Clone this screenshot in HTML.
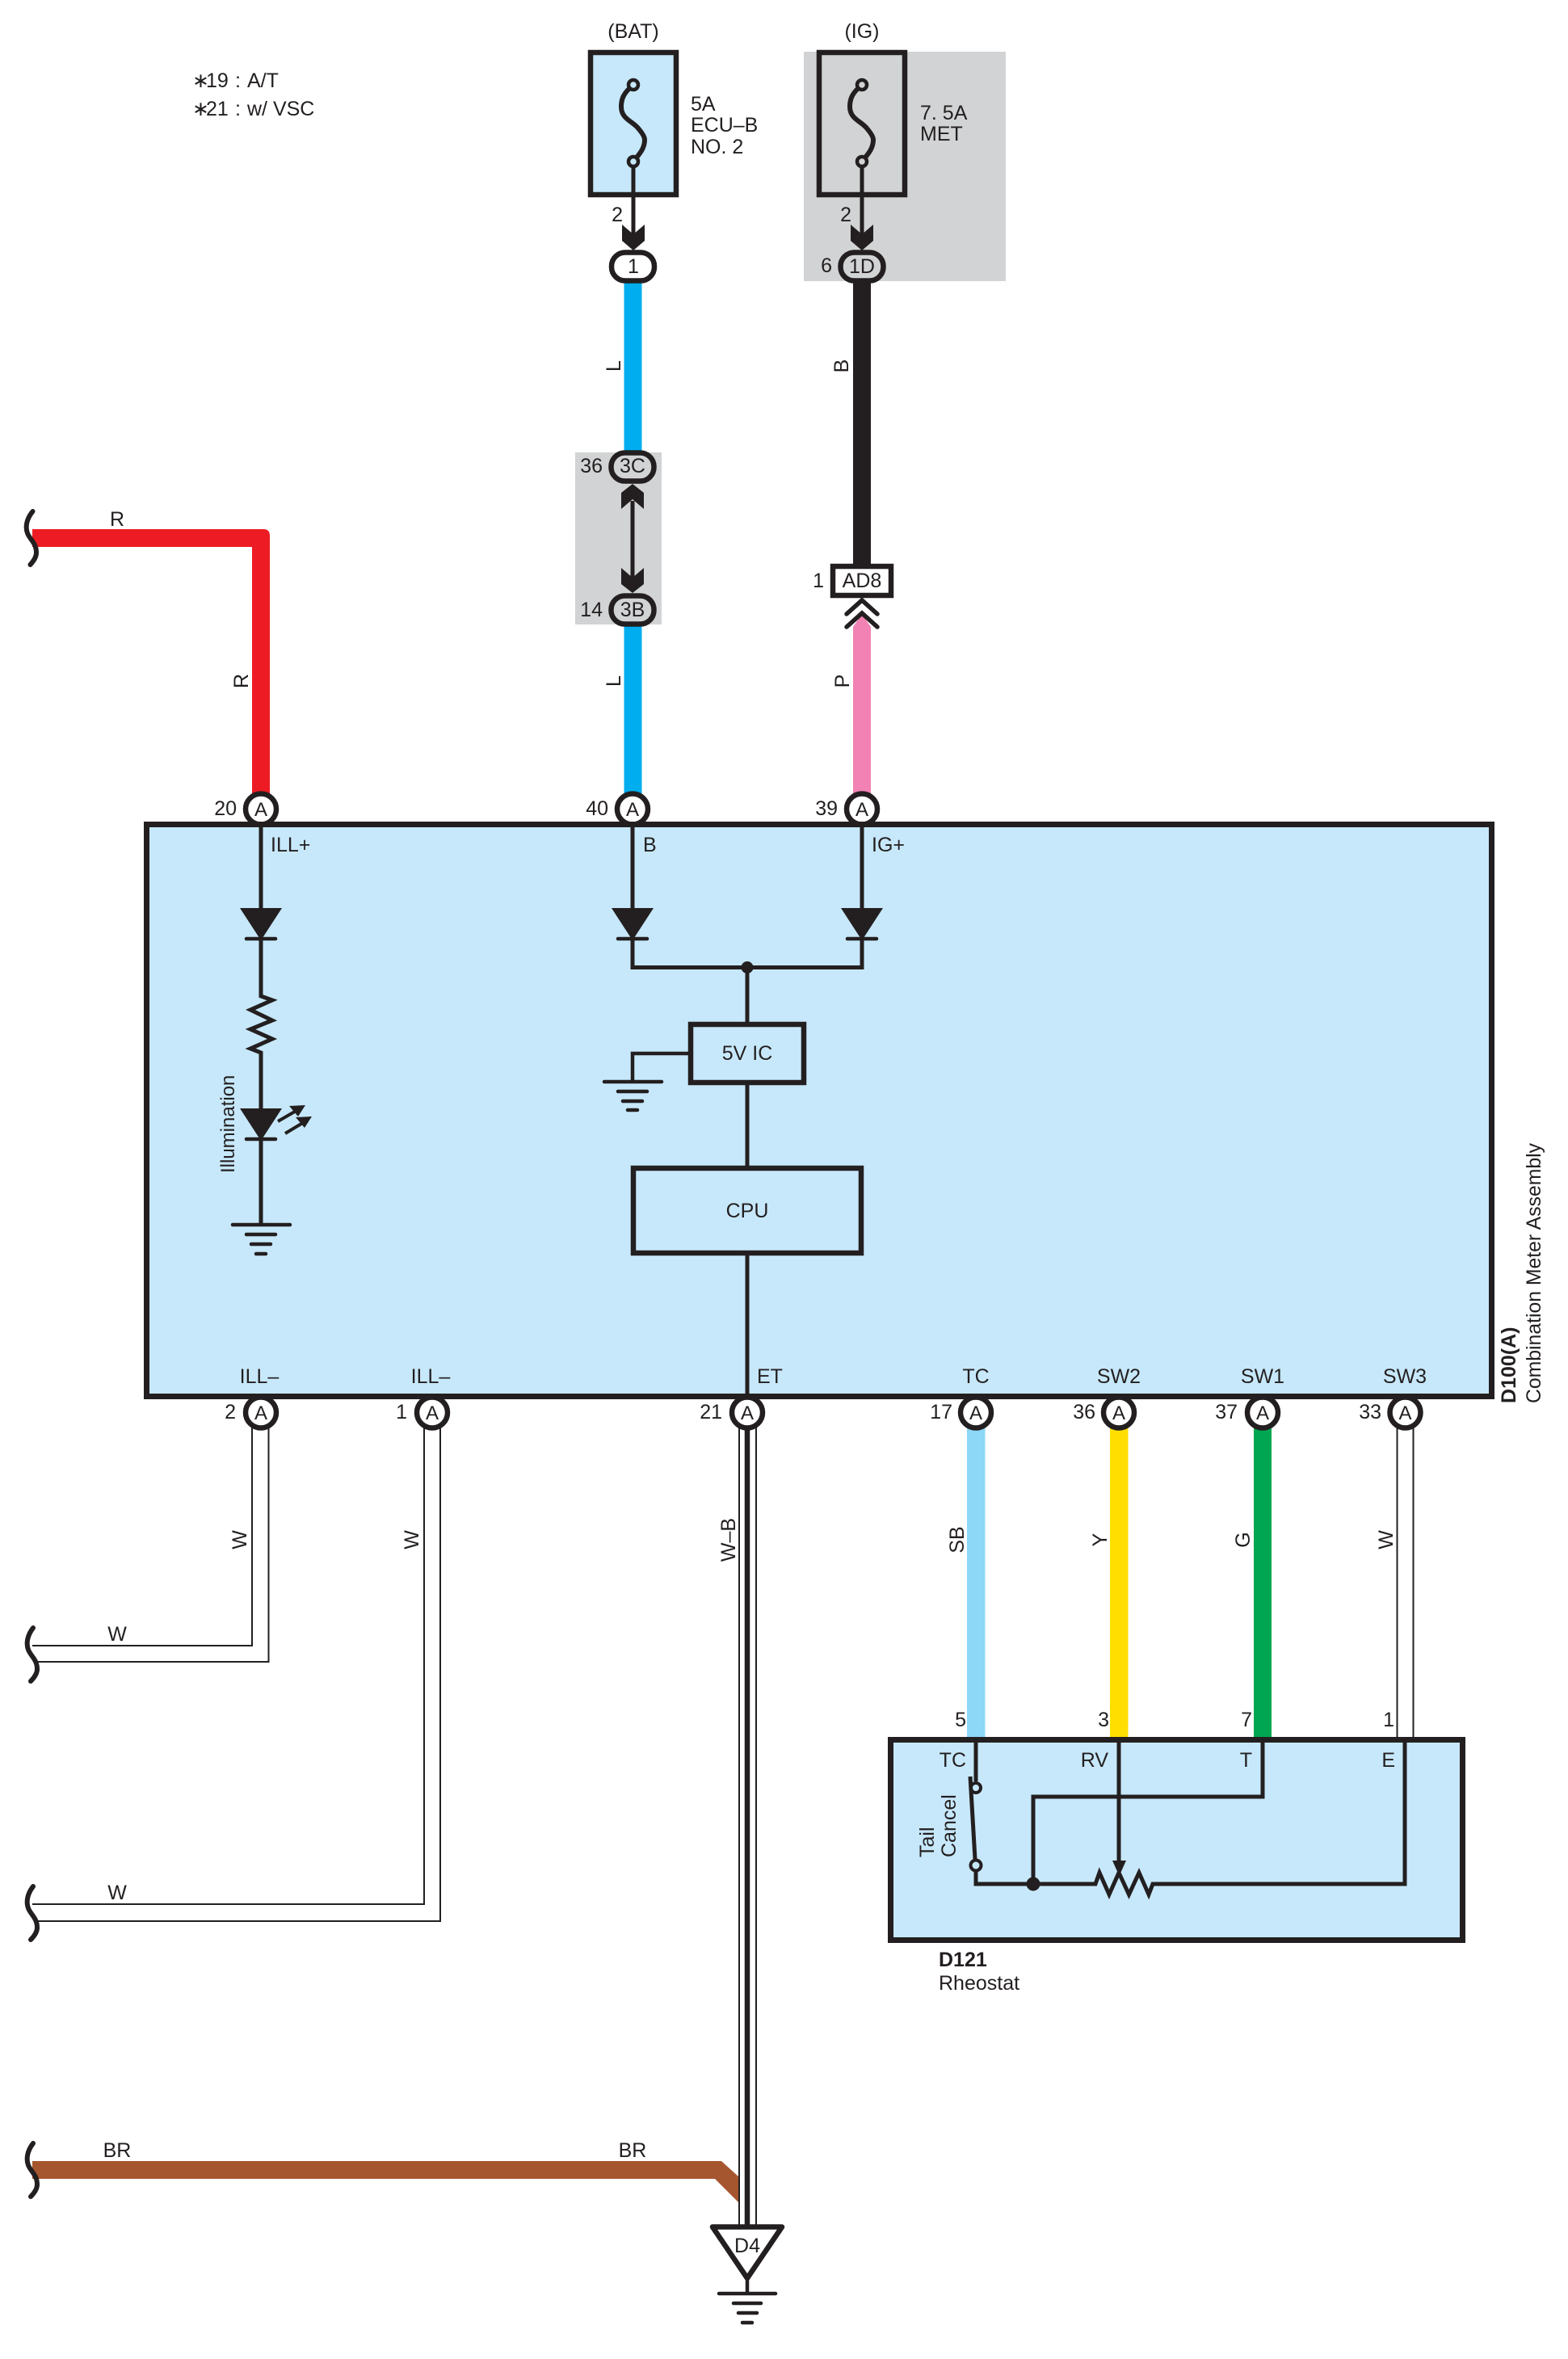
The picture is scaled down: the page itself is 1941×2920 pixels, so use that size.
<!DOCTYPE html>
<html>
<head>
<meta charset="utf-8">
<style>
html,body{margin:0;padding:0;background:#fff;width:1941px;height:2920px;overflow:hidden}
svg{display:block}
text{font-family:"Liberation Sans",sans-serif;font-size:25px;fill:#231f20}
.m{text-anchor:middle}
.e{text-anchor:end}
.b{font-weight:bold}
.a{font-size:24px}
.k{stroke:#231f20;fill:none;stroke-width:5}
.t{stroke:#231f20;stroke-width:6.5}
.w{stroke:#231f20;fill:none;stroke-width:2}
.g{stroke:#231f20;fill:none;stroke-width:4.5;stroke-linecap:round}
.brk{stroke:#231f20;fill:none;stroke-width:6;stroke-linecap:round}
.f{fill:#231f20;stroke:none}
</style>
</head>
<body>
<svg width="1941" height="2920" viewBox="0 0 1941 2920" xmlns="http://www.w3.org/2000/svg">
<rect width="1941" height="2920" fill="#fff"/>

<!-- notes -->
<text x="238" y="108">∗</text><text x="255" y="108">19</text><text x="291" y="108">:</text><text x="306" y="108">A/T</text>
<text x="238" y="143">∗</text><text x="255" y="143">21</text><text x="291" y="143">:</text><text x="306" y="143">w/ VSC</text>

<!-- grey zones -->
<rect x="995" y="64" width="250" height="284" fill="#d1d3d4"/>
<rect x="712" y="560" width="107" height="213" fill="#d1d3d4"/>

<!-- coloured wires -->
<rect x="772.5" y="345" width="22" height="220" fill="#00aeef"/>
<rect x="772.5" y="770" width="22" height="215" fill="#00aeef"/>
<rect x="1056" y="345" width="22" height="355" fill="#231f20"/>
<path d="M1056 982V776L1067 760L1078 776V982Z" fill="#f282b4"/>
<path d="M40 655H326Q334 655 334 663V985H312V677H40Z" fill="#ed1c24"/>
<rect x="1197" y="1765" width="22.5" height="385" fill="#8dd7f7"/>
<rect x="1374" y="1765" width="22.5" height="385" fill="#ffde00"/>
<rect x="1552" y="1765" width="22" height="385" fill="#00a651"/>
<path d="M40 2675H893L914 2694V2726L885 2697H40Z" fill="#a6562f"/>

<!-- white wires -->
<path class="w" d="M40 2037H312V1765"/>
<path class="w" d="M47 2057H332.5V1765"/>
<path class="w" d="M40 2357H525V1765"/>
<path class="w" d="M47 2378H545V1765"/>
<path class="w" d="M1729.5 1765V2150"/>
<path class="w" d="M1749.5 1765V2150"/>
<path class="w" d="M915 1765V2756"/>
<path class="w" d="M936 1765V2756"/>
<path stroke="#231f20" stroke-width="6.5" fill="none" d="M925 1760V2756"/>

<!-- break marks -->
<path class="brk" d="M40.5 633C33 642 31 652 34 660C37 668 45 672 45 684C45 690 41 695 37.5 699"/>
<path class="brk" d="M41 2015C34 2024 32 2034 35 2042C38 2050 46 2054 46 2066C46 2072 42 2077 38 2081"/>
<path class="brk" d="M41 2335C34 2344 32 2354 35 2362C38 2370 46 2374 46 2386C46 2392 42 2397 38 2401"/>
<path class="brk" d="M41 2653C34 2662 32 2672 35 2680C38 2688 46 2692 46 2704C46 2710 42 2715 38 2719"/>

<!-- fuse 1 -->
<rect x="731" y="65" width="106" height="176" style="fill:#c7e8fa" class="t"/>
<path class="k" style="stroke-width:6" d="M784 105C772 115 769 122 769 132C769 148 784 150 791 160C796 166 798 170 798 173C798 185 790 192 784 200"/>
<circle cx="784" cy="105" r="6" fill="#c7e8fa" stroke="#231f20" stroke-width="4.5"/>
<circle cx="784" cy="200" r="6" fill="#c7e8fa" stroke="#231f20" stroke-width="4.5"/>
<path class="k" d="M784 206V290"/>
<path class="f" d="M784 310L770 298V278L784 290L798 278V298Z"/>

<!-- fuse 2 -->
<rect x="1014" y="65" width="106" height="176" style="fill:#d1d3d4" class="t"/>
<path class="k" style="stroke-width:6" d="M1067 105C1055 115 1052 122 1052 132C1052 148 1067 150 1074 160C1079 166 1081 170 1081 173C1081 185 1073 192 1067 200"/>
<circle cx="1067" cy="105" r="6" fill="#d1d3d4" stroke="#231f20" stroke-width="4.5"/>
<circle cx="1067" cy="200" r="6" fill="#d1d3d4" stroke="#231f20" stroke-width="4.5"/>
<path class="k" d="M1067 206V290"/>
<path class="f" d="M1067 310L1053 298V278L1067 290L1081 278V298Z"/>

<!-- ovals -->
<rect x="757" y="312.5" width="53" height="35" rx="17" style="fill:#fff" class="t"/>
<rect x="1040.5" y="312.5" width="53" height="35" rx="17" style="fill:#d1d3d4" class="t"/>
<rect x="756.5" y="560.5" width="53" height="35" rx="17" style="fill:#d1d3d4" class="t"/>
<rect x="756.5" y="737.5" width="53" height="35" rx="17" style="fill:#d1d3d4" class="t"/>

<!-- double arrow -->
<path class="k" d="M783 620V715"/>
<path class="f" d="M783 599L769 610V630L783 618L797 630V610Z"/>
<path class="f" d="M783 734L769 723V703L783 715L797 703V723Z"/>

<!-- AD8 -->
<rect x="1031" y="701" width="72" height="36" style="fill:#fff" class="t"/>
<path d="M1048 760L1067 743L1086 760M1048 776L1067 759L1086 776" fill="none" stroke="#231f20" stroke-width="5.5" stroke-linecap="round"/>

<!-- connector circles -->
<g fill="#fff" stroke="#231f20" stroke-width="6.5">
<circle cx="323" cy="1001.5" r="19"/>
<circle cx="783" cy="1001.5" r="19"/>
<circle cx="1067" cy="1001.5" r="19"/>
<circle cx="323" cy="1748.5" r="19"/>
<circle cx="535" cy="1748.5" r="19"/>
<circle cx="925" cy="1748.5" r="19"/>
<circle cx="1208" cy="1748.5" r="19"/>
<circle cx="1385" cy="1748.5" r="19"/>
<circle cx="1563" cy="1748.5" r="19"/>
<circle cx="1739.5" cy="1748.5" r="19"/>
</g>

<!-- main box -->
<rect x="181.5" y="1020.5" width="1665" height="708" style="fill:#c7e8fa;stroke-width:7" class="t"/>

<!-- inner wiring -->
<path class="k" d="M323 1018V1233L337 1238L310 1250L337 1263L310 1274L337 1286L310 1298L323 1303V1516"/>
<path class="k" d="M783 1018V1197.5H1067V1018"/>
<path class="k" d="M925 1197.5V1265M925 1343V1443M925 1554V1731"/>
<circle class="f" cx="925" cy="1197.5" r="7.5"/>

<!-- diodes -->
<path class="f" d="M297 1124H349L323 1164Z"/>
<path class="g" d="M305 1162H341"/>
<path class="f" d="M757 1124H809L783 1164Z"/>
<path class="g" d="M765 1162H801"/>
<path class="f" d="M1041 1124H1093L1067 1164Z"/>
<path class="g" d="M1049 1162H1085"/>
<path class="f" d="M297 1372H349L323 1412Z"/>
<path class="g" d="M305 1410H341"/>
<!-- light arrows -->
<path class="k" style="stroke-width:4" d="M344 1388L370 1373"/>
<path class="f" d="M378 1368L358 1369L369 1382Z"/>
<path class="k" style="stroke-width:4" d="M353 1403L378 1388"/>
<path class="f" d="M386 1382L366 1383L377 1396Z"/>

<!-- grounds -->
<path class="g" d="M288 1516H359M305 1528H341M311 1540H335M317 1552H329"/>
<path class="k" style="stroke-width:4.5" d="M852 1304H783V1339"/>
<path class="g" d="M748 1339H819M765 1351H801M771 1363H795M777 1374H789"/>

<!-- IC / CPU -->
<rect x="855" y="1268" width="140" height="72" style="fill:#c7e8fa" class="t"/>
<rect x="784" y="1446" width="282" height="105" style="fill:#c7e8fa" class="t"/>

<!-- D121 box -->
<rect x="1102.5" y="2153.5" width="708" height="248" style="fill:#c7e8fa;stroke-width:7" class="t"/>
<path class="k" d="M1208 2152V2205M1208 2317V2332H1279"/>
<path class="k" d="M1385 2152V2305"/>
<path class="f" d="M1377 2303H1394L1385.5 2322Z"/>
<path class="k" d="M1563 2152V2224H1279V2332"/>
<path class="k" d="M1279 2332H1356L1361 2318L1373 2345L1385 2318L1397.5 2345L1410 2318L1422 2345L1427 2332H1739V2152"/>
<circle class="f" cx="1279" cy="2332" r="8.5"/>
<path class="k" d="M1201 2199L1207 2301"/>
<circle cx="1208" cy="2213" r="6" fill="#c7e8fa" stroke="#231f20" stroke-width="4"/>
<circle cx="1208" cy="2309" r="6.5" fill="#c7e8fa" stroke="#231f20" stroke-width="4"/>

<!-- D4 -->
<path d="M882 2756.5H968L925 2820Z" fill="#fff" stroke="#231f20" stroke-width="6.5" stroke-linejoin="round"/>
<path class="k" style="stroke-width:4.5" d="M925 2820V2839"/>
<path class="g" d="M890 2839H960M908 2851H942M914 2863H937M919 2875H931"/>

<!-- text: top -->
<text class="m" x="784" y="47">(BAT)</text>
<text class="m" x="1067" y="47">(IG)</text>
<text x="855" y="137">5A</text>
<text x="855" y="163">ECU–B</text>
<text x="855" y="190">NO. 2</text>
<text x="1139" y="148">7. 5A</text>
<text x="1139" y="174">MET</text>
<text class="e" x="771" y="274">2</text>
<text class="e" x="1054" y="274">2</text>
<text class="m" x="784" y="338">1</text>
<text class="e" x="1030" y="337">6</text>
<text class="m" x="1067" y="338">1D</text>
<text class="m" x="783" y="585">3C</text>
<text class="m" x="783" y="763">3B</text>
<text class="e" x="746" y="585">36</text>
<text class="e" x="746" y="763">14</text>
<text class="m" x="1067" y="727">AD8</text>
<text class="e" x="1020" y="727">1</text>
<text class="m" x="145" y="651">R</text>

<!-- rotated wire labels -->
<text class="m" transform="translate(307,843) rotate(-90)">R</text>
<text class="m" transform="translate(768,843) rotate(-90)">L</text>
<text class="m" transform="translate(768,453) rotate(-90)">L</text>
<text class="m" transform="translate(1051,843) rotate(-90)">P</text>
<text class="m" transform="translate(1050,453) rotate(-90)">B</text>

<!-- pin labels top -->
<text class="e" x="293" y="1009">20</text>
<text class="e" x="753" y="1009">40</text>
<text class="e" x="1037" y="1009">39</text>
<text class="m a" x="323" y="1010">A</text>
<text class="m a" x="783" y="1010">A</text>
<text class="m a" x="1067" y="1010">A</text>
<text x="335" y="1054">ILL+</text>
<text x="796" y="1054">B</text>
<text x="1079" y="1054">IG+</text>

<!-- inner labels -->
<text class="a" x="0" y="0" transform="translate(290,1452) rotate(-90)">Illumination</text>
<text class="m" x="925" y="1312">5V IC</text>
<text class="m" x="925" y="1507">CPU</text>

<!-- bottom of main box -->
<text class="m" x="321" y="1712">ILL–</text>
<text class="m" x="533" y="1712">ILL–</text>
<text x="937" y="1712">ET</text>
<text class="m" x="1208" y="1712">TC</text>
<text class="m" x="1385" y="1712">SW2</text>
<text class="m" x="1563" y="1712">SW1</text>
<text class="m" x="1739" y="1712">SW3</text>
<text class="m a" x="323" y="1757">A</text>
<text class="m a" x="535" y="1757">A</text>
<text class="m a" x="925" y="1757">A</text>
<text class="m a" x="1208" y="1757">A</text>
<text class="m a" x="1385" y="1757">A</text>
<text class="m a" x="1563" y="1757">A</text>
<text class="m a" x="1739.5" y="1757">A</text>
<text class="e" x="292" y="1756">2</text>
<text class="e" x="504" y="1756">1</text>
<text class="e" x="894" y="1756">21</text>
<text class="e" x="1179" y="1756">17</text>
<text class="e" x="1356" y="1756">36</text>
<text class="e" x="1532" y="1756">37</text>
<text class="e" x="1710" y="1756">33</text>

<text class="b" x="0" y="0" transform="translate(1876,1737) rotate(-90)">D100(A)</text>
<text x="0" y="0" transform="translate(1907,1737) rotate(-90)" textLength="322" lengthAdjust="spacingAndGlyphs">Combination Meter Assembly</text>

<!-- vertical wire labels lower -->
<text class="m" transform="translate(305,1906) rotate(-90)">W</text>
<text class="m" transform="translate(518,1906) rotate(-90)">W</text>
<text class="m" transform="translate(910,1906) rotate(-90)">W–B</text>
<text class="m" transform="translate(1193,1906) rotate(-90)">SB</text>
<text class="m" transform="translate(1370,1906) rotate(-90)">Y</text>
<text class="m" transform="translate(1547,1906) rotate(-90)">G</text>
<text class="m" transform="translate(1724,1906) rotate(-90)">W</text>

<text class="m" x="145" y="2031">W</text>
<text class="m" x="145" y="2351">W</text>
<text class="m" x="145" y="2670">BR</text>
<text class="m" x="783" y="2670">BR</text>

<!-- D121 labels -->
<text class="e" x="1196" y="2137">5</text>
<text class="e" x="1373" y="2137">3</text>
<text class="e" x="1550" y="2137">7</text>
<text class="e" x="1726" y="2137">1</text>
<text class="e" x="1196" y="2187">TC</text>
<text class="e" x="1372" y="2187">RV</text>
<text class="e" x="1550" y="2187">T</text>
<text class="e" x="1727" y="2187">E</text>
<text x="0" y="0" transform="translate(1156,2299) rotate(-90)">Tail</text>
<text x="0" y="0" transform="translate(1183,2299) rotate(-90)">Cancel</text>
<text class="b" x="1162" y="2434">D121</text>
<text x="1162" y="2463">Rheostat</text>
<text class="m" x="925" y="2788">D4</text>
</svg>
</body>
</html>
